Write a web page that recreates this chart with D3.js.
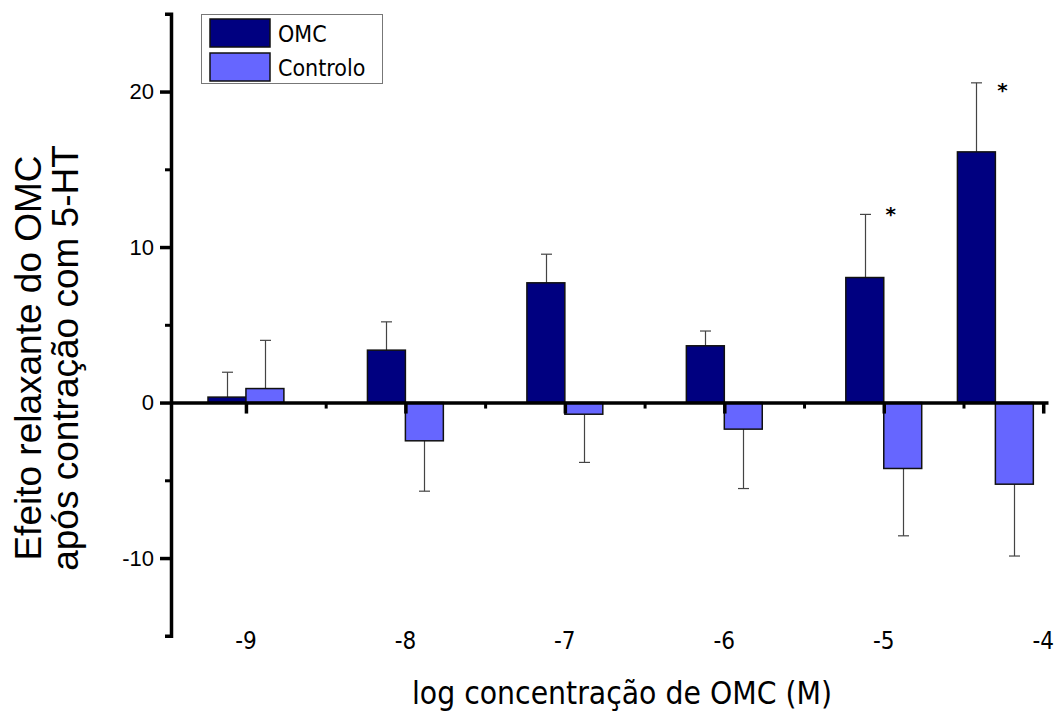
<!DOCTYPE html>
<html>
<head>
<meta charset="utf-8">
<script src="https://cdn.jsdelivr.net/npm/d3@7"></script>
<style>
  html, body { margin: 0; padding: 0; background: #fff; }
  svg { display: block; }
</style>
</head>
<body>
<svg id="chart" width="1060" height="713"></svg>
<script>
// ---- data ----
const concentrations = [-9, -8, -7, -6, -5, -4.3];
const omcValues = [0.35, 3.37, 7.7, 3.65, 8.04, 16.12];
const omcErrors = [1.6, 1.82, 1.84, 0.95, 4.06, 4.44];
const controloValues = [0.9, -2.46, -0.75, -1.71, -4.24, -5.25];
const controloErrors = [3.1, 3.24, 3.1, 3.82, 4.33, 4.62];
const asteriskLevels = [null, null, null, null, 12.3, 20.3];
const seriesNames = ["OMC", "Controlo"];
const xTickValues = [-9, -8, -7, -6, -5, -4];
const xTickLabels = ["-9", "-8", "-7", "-6", "-5", "-4"];
const xMinorTicks = [-8.5, -7.5, -6.5, -5.5, -4.5];
const yTickValues = [-10, 0, 10, 20];
const yTickLabels = ["-10", "0", "10", "20"];
const yMinorTicks = [-5, 5, 15];

const colors = { OMC: "#000080", Controlo: "#6666ff" };

const svg = d3.select("#chart");

const x = d3.scaleLinear().domain([-9.47, -3.97]).range([171, 1048]);
const y = d3.scaleLinear().domain([-15, 25]).range([635.8, 13.8]);
const barW = x(0.238) - x(0);

// bars
const g = svg.append("g");
function drawSeries(vals, errs, name, offset) {
  const data = concentrations.map((c, i) => ({ c, v: vals[i], e: errs[i] }));
  data.forEach(d => {
    const cx = x(d.c) + offset * barW + barW / 2;
    const end = d.v >= 0 ? d.v + d.e : d.v - d.e;
    g.append("line")
      .attr("x1", Math.round(cx) + 0.5).attr("x2", Math.round(cx) + 0.5)
      .attr("y1", y(d.v)).attr("y2", y(end))
      .attr("stroke", "#444").attr("stroke-width", 1.2);
    g.append("line")
      .attr("x1", Math.round(cx) + 0.5 - 5.5).attr("x2", Math.round(cx) + 0.5 + 5.5)
      .attr("y1", y(end)).attr("y2", y(end))
      .attr("stroke", "#444").attr("stroke-width", 1.2);
  });
  g.selectAll(null).data(data).enter().append("rect")
    .attr("x", d => x(d.c) + offset * barW)
    .attr("width", barW)
    .attr("y", d => y(Math.max(0, d.v)))
    .attr("height", d => Math.abs(y(d.v) - y(0)))
    .attr("fill", colors[name])
    .attr("stroke", "#111")
    .attr("stroke-width", 1.5);
}
drawSeries(omcValues, omcErrors, "OMC", -1);
drawSeries(controloValues, controloErrors, "Controlo", 0);

// significance asterisks
concentrations.forEach((c, i) => {
  if (asteriskLevels[i] === null) return;
  svg.append("text")
    .attr("x", x(c) + 7)
    .attr("y", y(asteriskLevels[i]) + 10)
    .attr("text-anchor", "middle")
    .attr("font-family", "DejaVu Sans, sans-serif")
    .attr("font-weight", "bold")
    .attr("font-size", 20)
    .text("*");
});

// x axis at y=0
const xAxis = svg.append("g")
  .attr("transform", `translate(0,${y(0)})`)
  .call(d3.axisBottom(x).tickValues(xTickValues).tickSize(11).tickSizeOuter(0).tickFormat(""));
xAxis.select(".domain").attr("stroke", "#000").attr("stroke-width", 3.5);
xAxis.selectAll(".tick line").attr("stroke", "#000").attr("stroke-width", 3.5);
const xMinor = svg.append("g")
  .attr("transform", `translate(0,${y(0)})`)
  .call(d3.axisBottom(x).tickValues(xMinorTicks).tickSize(6).tickFormat(""));
xMinor.select(".domain").remove();
xMinor.selectAll(".tick line").attr("stroke", "#000").attr("stroke-width", 3);

// x tick labels at the bottom
svg.append("g").selectAll("text").data(xTickValues).enter().append("text")
  .attr("x", d => x(d))
  .attr("y", 649)
  .attr("text-anchor", "middle")
  .attr("font-family", "DejaVu Sans Condensed, sans-serif")
  .attr("font-size", 24)
  .text((d, i) => xTickLabels[i]);

// y axis
const yAxis = svg.append("g")
  .attr("transform", `translate(171,0)`)
  .call(d3.axisLeft(y).tickValues(yTickValues).tickSize(11).tickSizeOuter(6).tickPadding(6)
    .tickFormat((d, i) => yTickLabels[i]));
yAxis.select(".domain").attr("stroke", "#000").attr("stroke-width", 3.5);
yAxis.selectAll(".tick line").attr("stroke", "#000").attr("stroke-width", 3.5);
yAxis.selectAll(".tick text")
  .attr("font-family", "Liberation Sans, Arial, sans-serif")
  .attr("font-size", 22)
  .attr("fill", "#000");
const yMinor = svg.append("g")
  .attr("transform", `translate(171,0)`)
  .call(d3.axisLeft(y).tickValues(yMinorTicks).tickSize(6).tickFormat(""));
yMinor.select(".domain").remove();
yMinor.selectAll(".tick line").attr("stroke", "#000").attr("stroke-width", 3);

// axis titles
svg.append("text")
  .attr("x", 622).attr("y", 704)
  .attr("text-anchor", "middle")
  .attr("font-family", "DejaVu Sans Condensed, sans-serif")
  .attr("font-size", 31.5)
  .text("log concentração de OMC (M)");

const yt = svg.append("text")
  .attr("transform", "translate(0,358) rotate(-90)")
  .attr("text-anchor", "middle")
  .attr("font-family", "Liberation Sans, Arial, sans-serif")
  .attr("font-size", 37);
yt.append("tspan").attr("x", 0).attr("y", 41).text("Efeito relaxante do OMC");
yt.append("tspan").attr("x", 0).attr("y", 78).text("após contração com 5-HT");

// legend
const leg = svg.append("g");
leg.append("rect").attr("x", 201.5).attr("y", 14.5).attr("width", 181).attr("height", 69)
  .attr("fill", "#fff").attr("stroke", "#777").attr("stroke-width", 1);
seriesNames.forEach((n, i) => {
  leg.append("rect").attr("x", 210).attr("y", 19 + i * 34).attr("width", 60).attr("height", 28)
    .attr("fill", colors[n]).attr("stroke", "#111").attr("stroke-width", 1.5);
  leg.append("text").attr("x", 278).attr("y", 42 + i * 34)
    .attr("font-family", "DejaVu Sans Condensed, sans-serif")
    .attr("font-size", 23)
    .text(n);
});
</script>
</body>
</html>
